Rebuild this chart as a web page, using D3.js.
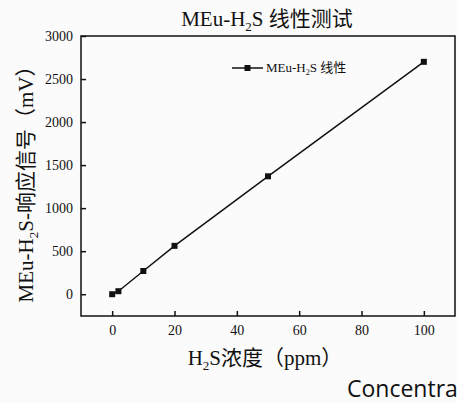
<!DOCTYPE html>
<html>
<head>
<meta charset="utf-8">
<script src="https://d3js.org/d3.v7.min.js"></script>
<style>
  body { margin: 0; background: #fbfbfb; }
  svg { display: block; }
</style>
</head>
<body>
<svg width="457" height="403"></svg>
<script>
// data
const concentration = [0, 2, 10, 20, 50, 100];
const signal = [0, 35, 270, 562, 1370, 2700];
const xTicks = [0, 20, 40, 60, 80, 100];
const yTicks = [0, 500, 1000, 1500, 2000, 2500, 3000];

const serif = "'Liberation Serif', 'Times New Roman', Times, serif, 'Noto Sans CJK SC'";

const svg = d3.select("svg");
const plotLeft = 81, plotRight = 455, plotTop = 36, plotBottom = 316;

const x = d3.scaleLinear().domain([-10, 110]).range([plotLeft, plotRight]);
const y = d3.scaleLinear().domain([-253, 3000]).range([plotBottom, plotTop]);

// frame
svg.append("rect")
  .attr("x", plotLeft).attr("y", plotTop)
  .attr("width", plotRight - plotLeft).attr("height", plotBottom - plotTop)
  .attr("fill", "none").attr("stroke", "#111").attr("stroke-width", 1.5);

// axes with inward ticks
const xAxis = svg.append("g")
  .attr("transform", `translate(0,${plotBottom})`)
  .call(d3.axisBottom(x).tickValues(xTicks).tickFormat(d3.format("d"))
    .tickSizeInner(-5).tickSizeOuter(0).tickPadding(9));
const yAxis = svg.append("g")
  .attr("transform", `translate(${plotLeft},0)`)
  .call(d3.axisLeft(y).tickValues(yTicks).tickFormat(d3.format("d"))
    .tickSizeInner(-5).tickSizeOuter(0).tickPadding(8));

[xAxis, yAxis].forEach(g => {
  g.attr("font-family", serif).attr("font-size", 14);
  g.select(".domain").remove();
  g.selectAll("line").attr("stroke", "#111").attr("stroke-width", 1.5);
  g.selectAll("text").attr("fill", "#111");
});

// line + markers
const line = d3.line().x((d, i) => x(concentration[i])).y(d => y(d));
svg.append("path")
  .datum(signal)
  .attr("d", line)
  .attr("fill", "none").attr("stroke", "#111").attr("stroke-width", 1.5);

svg.selectAll("rect.pt")
  .data(signal)
  .enter()
  .append("rect")
  .attr("class", "pt")
  .attr("x", (d, i) => x(concentration[i]) - 3)
  .attr("y", d => y(d) - 3)
  .attr("width", 6).attr("height", 6)
  .attr("fill", "#111");

// text with a subscript 2
function subText(sel, before, after, size, sub) {
  sel.attr("font-family", serif).attr("font-size", size).attr("fill", "#111");
  sel.append("tspan").text(before);
  sel.append("tspan").text("2").attr("font-size", Math.round(size * 0.6)).attr("dy", sub);
  sel.append("tspan").text(after).attr("dy", -sub);
}

// legend
svg.append("line")
  .attr("x1", 232).attr("x2", 263).attr("y1", 68).attr("y2", 68)
  .attr("stroke", "#111").attr("stroke-width", 1.5);
svg.append("rect")
  .attr("x", 244.5).attr("y", 65).attr("width", 6).attr("height", 6).attr("fill", "#111");
subText(svg.append("text").attr("x", 266).attr("y", 72), "MEu-H", "S 线性", 13, 3);

// title
subText(svg.append("text").attr("x", 267).attr("y", 26).attr("text-anchor", "middle"),
  "MEu-H", "S 线性测试", 21, 5);

// x title
subText(svg.append("text").attr("x", 265).attr("y", 365).attr("text-anchor", "middle"),
  "H", "S浓度（ppm）", 21, 5);

// y title
subText(svg.append("text").attr("transform", "translate(33,179) rotate(-90)")
  .attr("text-anchor", "middle"), "MEu-H", "S-响应信号（mV）", 21, 5);

// stray caption from the source page, cut by the edge
svg.append("text").attr("x", 347).attr("y", 397)
  .attr("font-family", "'Open Sans', Lato, sans-serif")
  .attr("font-size", 23).attr("fill", "#111").text("Concentra");
</script>
</body>
</html>
